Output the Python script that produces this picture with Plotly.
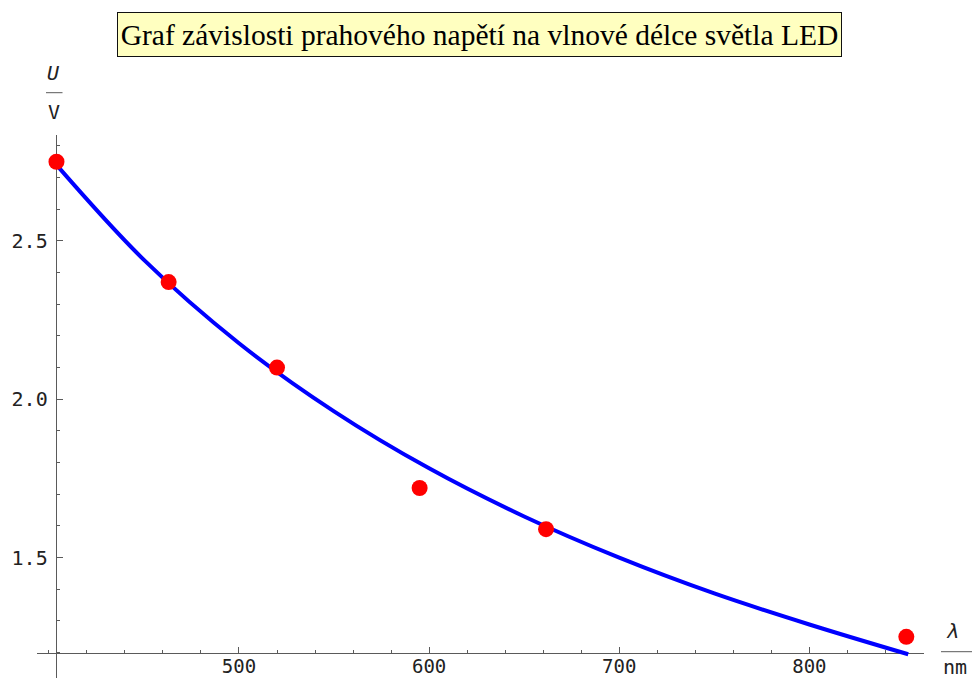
import plotly.graph_objects as go

# ---- data ----
wavelength_nm = [404, 463, 520, 595, 661.5, 851]
threshold_V = [2.75, 2.37, 2.10, 1.72, 1.59, 1.25]

fit_nm = [404, 450, 500, 550, 600, 650, 700, 750, 800, 852]
fit_V = [2.740, 2.440, 2.177, 1.962, 1.782, 1.630, 1.500, 1.387, 1.289, 1.195]

x_major = [500, 600, 700, 800]
x_major_text = ["500", "600", "700", "800"]
y_major = [1.5, 2.0, 2.5]
y_major_text = ["1.5", "2.0", "2.5"]

title_text = "Graf závislosti prahového napětí na vlnové délce světla LED"
x_label_top, x_label_bottom = "λ", "nm"
y_label_top, y_label_bottom = "U", "V"

# ---- layout geometry (pixels) ----
W, H = 972, 678
X_RANGE = [393.6, 860.3]
Y_RANGE = [1.12, 2.836]
PLOT_L, PLOT_R = 36.7, 924.0
PLOT_T, PLOT_B = 134.5, 678.0
X_AXIS_AT = 1.2      # y value where the x axis crosses
Y_AXIS_AT = 403.6    # x value where the y axis crosses


def px_x(v):
    return PLOT_L + (v - X_RANGE[0]) / (X_RANGE[1] - X_RANGE[0]) * (PLOT_R - PLOT_L)


def py_y(v):
    return PLOT_B - (v - Y_RANGE[0]) / (Y_RANGE[1] - Y_RANGE[0]) * (PLOT_B - PLOT_T)


def pap_x(px):
    return px / W


def pap_y(py):
    return 1 - py / H


AXIS_COL = "#5a5a5a"
TICK_FONT_Y = dict(family="DejaVu Sans Mono", size=20, color="#222222")
TICK_FONT_X = dict(family="DejaVu Sans Mono", size=19, color="#222222")

fig = go.Figure()
fig.add_trace(go.Scatter(
    x=fit_nm, y=fit_V, mode="lines",
    line=dict(color="#0000FF", width=4, shape="spline", smoothing=1.0),
    hoverinfo="skip",
))
fig.add_trace(go.Scatter(
    x=wavelength_nm, y=threshold_V, mode="markers",
    marker=dict(color="#FF0000", size=16, line=dict(width=0)),
))

axis_common = dict(
    showline=True, linecolor=AXIS_COL, linewidth=1,
    ticks="inside", ticklen=6, tickwidth=1, tickcolor=AXIS_COL,
    tickmode="array",
    showgrid=False, zeroline=False, layer="below traces",
    automargin=False, anchor="free", fixedrange=True,
)

fig.update_layout(
    width=W, height=H,
    margin=dict(l=0, r=0, t=0, b=0, pad=0),
    paper_bgcolor="white", plot_bgcolor="rgba(0,0,0,0)",
    showlegend=False,
    xaxis=dict(
        **axis_common,
        domain=[pap_x(PLOT_L), pap_x(PLOT_R)],
        range=X_RANGE,
        position=pap_y(py_y(X_AXIS_AT)),
        tickvals=x_major, ticktext=x_major_text, tickfont=TICK_FONT_X,
        ticklabelstandoff=-3,
        minor=dict(ticks="inside", ticklen=3, tickwidth=1, tickcolor=AXIS_COL,
                   tickmode="linear", tick0=400, dtick=20, showgrid=False),
    ),
    yaxis=dict(
        **axis_common,
        domain=[pap_y(PLOT_B), pap_y(PLOT_T)],
        range=Y_RANGE,
        position=pap_x(px_x(Y_AXIS_AT)),
        tickvals=y_major, ticktext=y_major_text, tickfont=TICK_FONT_Y,
        ticklabelstandoff=4,
        minor=dict(ticks="inside", ticklen=3, tickwidth=1, tickcolor=AXIS_COL,
                   tickmode="linear", tick0=1.2, dtick=0.1, showgrid=False),
    ),
)

# title box
fig.add_annotation(
    text=title_text, xref="paper", yref="paper",
    x=pap_x(479.6), y=pap_y(34.8), xanchor="center", yanchor="middle",
    showarrow=False, font=dict(family="Liberation Serif", size=29.5, color="black"),
    bgcolor="#FFFFC0", bordercolor="#111111", borderwidth=1, borderpad=2,
    width=719, height=39,
)

# y-axis label as a fraction U / V
lab_font = dict(family="DejaVu Sans Mono", size=20, color="#222222")
fig.add_annotation(text="<i>" + y_label_top + "</i>", xref="paper", yref="paper",
                   x=pap_x(53.5), y=pap_y(73), xanchor="center", yanchor="middle",
                   showarrow=False, font=lab_font)
fig.add_shape(type="line", xref="paper", yref="paper",
              x0=pap_x(46), x1=pap_x(62.5), y0=pap_y(92.7), y1=pap_y(92.7),
              line=dict(color=AXIS_COL, width=1))
fig.add_annotation(text=y_label_bottom, xref="paper", yref="paper",
                   x=pap_x(54), y=pap_y(111.5), xanchor="center", yanchor="middle",
                   showarrow=False, font=lab_font)

# x-axis label as a fraction λ / nm
fig.add_annotation(text="<i>" + x_label_top + "</i>", xref="paper", yref="paper",
                   x=pap_x(952), y=pap_y(631), xanchor="center", yanchor="middle",
                   showarrow=False, font=lab_font)
fig.add_shape(type="line", xref="paper", yref="paper",
              x0=pap_x(941), x1=pap_x(977), y0=pap_y(651.7), y1=pap_y(651.7),
              line=dict(color=AXIS_COL, width=1))
fig.add_annotation(text=x_label_bottom, xref="paper", yref="paper",
                   x=pap_x(941), y=pap_y(667), xanchor="left", yanchor="middle",
                   showarrow=False, font=lab_font)

fig.write_html("out.html")
